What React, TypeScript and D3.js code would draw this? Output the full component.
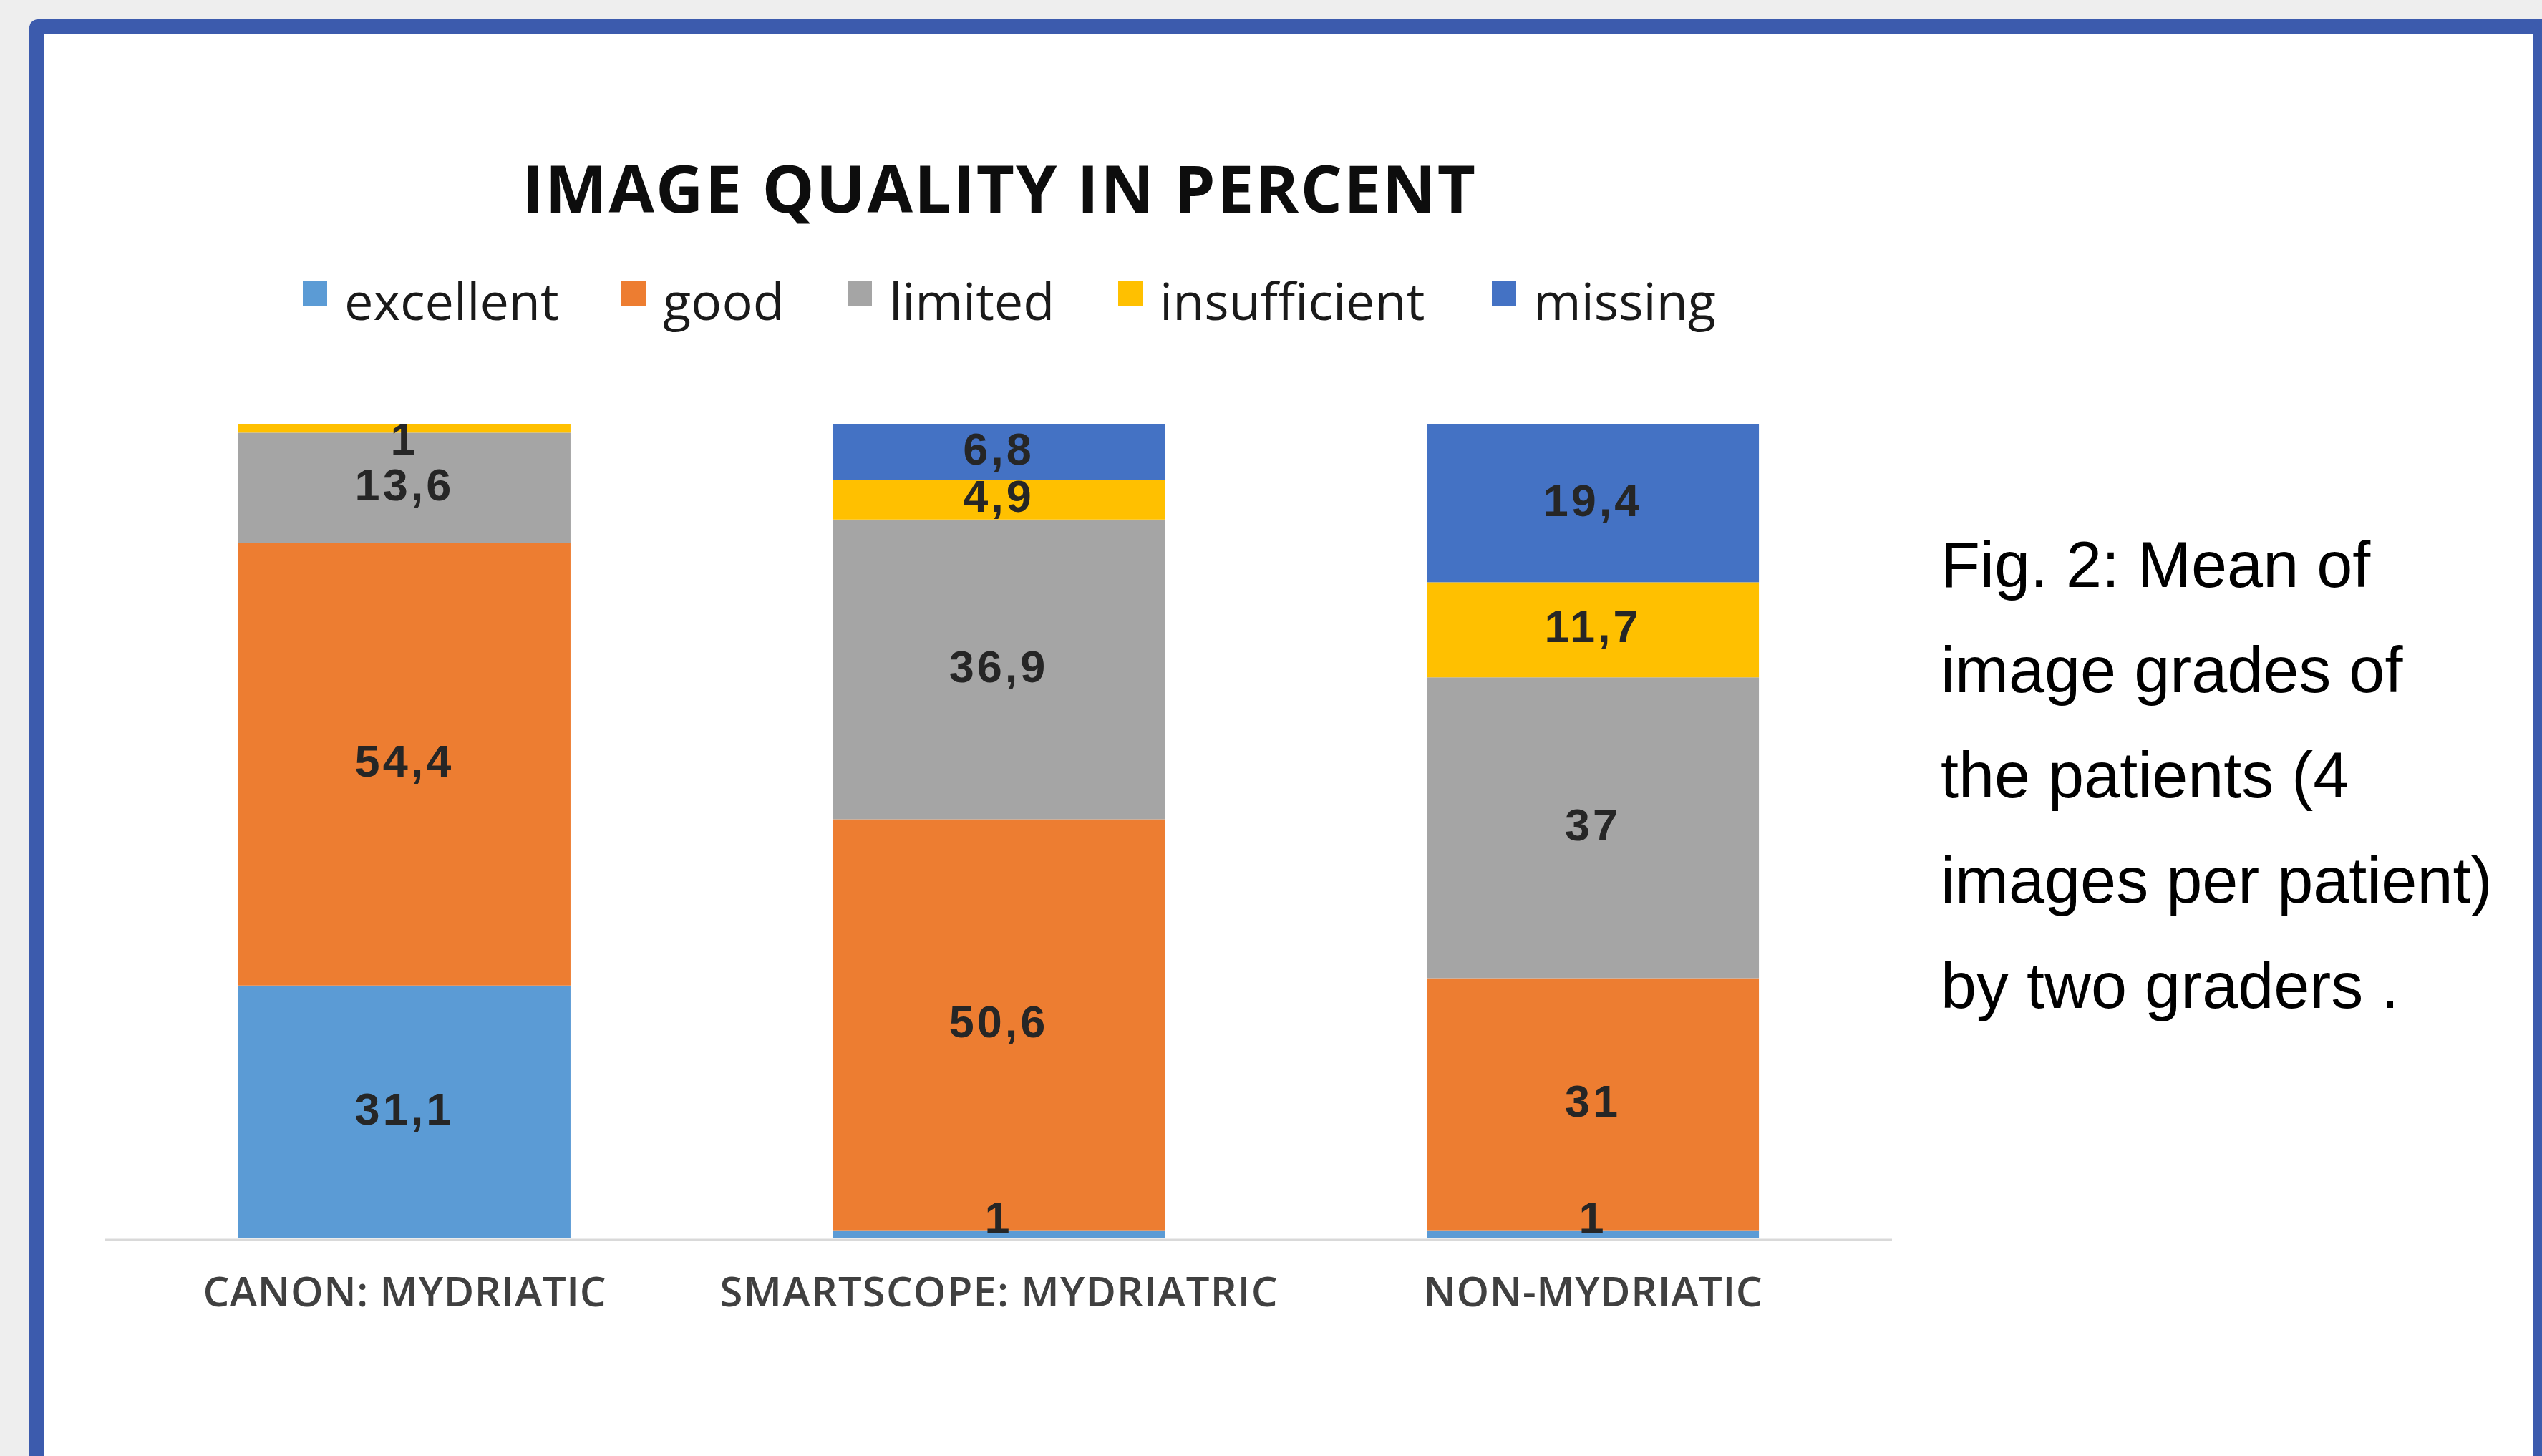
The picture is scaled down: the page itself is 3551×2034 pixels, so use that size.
import React from "react";
import * as d3 from "d3";

// chart data (percent, 100% stacked)
const categories = ["CANON: MYDRIATIC", "SMARTSCOPE: MYDRIATRIC", "NON-MYDRIATIC"];
const seriesNames = ["excellent", "good", "limited", "insufficient", "missing"];
const excellent = [31.1, 1, 1];
const good = [54.4, 50.6, 31];
const limited = [13.6, 36.9, 37];
const insufficient = [1, 4.9, 11.7];
const missing = [0, 6.8, 19.4];
const seriesColors = ["#5B9BD5", "#ED7D31", "#A5A5A5", "#FFC000", "#4472C4"];

const captionLines = [
  "Fig. 2: Mean of",
  "image grades of",
  "the patients (4",
  "images per patient)",
  "by two graders .",
];
const categoryLabelWidths = [563, 779, 473];

const W = 3551;
const H = 2034;

export default function App() {
  const values = [excellent, good, limited, insufficient, missing];
  const rows = categories.map((c, i) => {
    const row: any = { cat: c };
    seriesNames.forEach((s, k) => (row[s] = values[k][i]));
    return row;
  });

  const stack = d3.stack<any>().keys(seriesNames).offset(d3.stackOffsetExpand);
  const layers = stack(rows);

  const x = d3
    .scaleBand()
    .domain(categories)
    .range([147, 2643])
    .paddingInner(0.441)
    .paddingOuter(0.224);
  const y = d3.scaleLinear().domain([0, 1]).range([1730, 593]);
  const color = d3.scaleOrdinal<string>().domain(seriesNames).range(seriesColors);

  const fmt = (v: number) => String(v).replace(".", ",");

  // legend layout
  const legendX = [423, 868, 1184, 1562, 2084];

  return (
    <svg
      width={W}
      height={H}
      style={{ position: "absolute", left: 0, top: 0, display: "block" }}
    >
      <rect width={W} height={H} fill="#eeeeee" />
      {/* frame */}
      <rect x={41} y={27} width={3560} height={2100} rx={12} fill="#3C5BAD" />
      <rect x={61} y={48} width={3478} height={2100} fill="#ffffff" />

      {/* title */}
      <text
        x={1395}
        y={297}
        textAnchor="middle"
        fontFamily="'Open Sans', sans-serif"
        fontWeight={700}
        fontSize={92}
        fill="#0d0d0d"
        textLength={1332}
        lengthAdjust="spacing"
      >
        IMAGE QUALITY  IN PERCENT
      </text>

      {/* legend */}
      {seriesNames.map((s, i) => (
        <g key={s} transform={`translate(${legendX[i]},0)`}>
          <rect x={0} y={393} width={34} height={34} fill={color(s)} />
          <text
            x={58}
            y={447}
            fontFamily="'Open Sans', sans-serif"
            fontSize={72}
            fill="#1a1a1a"
          >
            {s}
          </text>
        </g>
      ))}

      {/* bars */}
      {layers.map((layer) => (
        <g key={layer.key} fill={color(layer.key)}>
          {layer.map((d, i) => (
            <rect
              key={i}
              x={x(categories[i])}
              y={y(d[1])}
              width={x.bandwidth()}
              height={y(d[0]) - y(d[1])}
            />
          ))}
        </g>
      ))}

      {/* axis line */}
      <line x1={147} x2={2643} y1={1732} y2={1732} stroke="#D9D9D9" strokeWidth={3} />

      {/* data labels */}
      {layers.map((layer) =>
        layer.map((d, i) => {
          const v = values[seriesNames.indexOf(layer.key)][i];
          if (!v) return null;
          let cy = (y(d[0]) + y(d[1])) / 2 - 5;
          cy = Math.max(612, Math.min(1700, cy));
          return (
            <text
              key={layer.key + i}
              x={(x(categories[i]) as number) + x.bandwidth() / 2}
              y={cy + 22.5}
              textAnchor="middle"
              fontFamily="'Liberation Sans', Arial, sans-serif"
              fontWeight={700}
              fontSize={63}
              letterSpacing={4}
              fill="#262626"
            >
              {fmt(v)}
            </text>
          );
        })
      )}

      {/* category labels */}
      {categories.map((c, i) => (
        <text
          key={c}
          x={(x(c) as number) + x.bandwidth() / 2}
          y={1825}
          textAnchor="middle"
          fontFamily="'Open Sans', sans-serif"
          fontWeight={600}
          fontSize={58}
          fill="#404040"
          textLength={categoryLabelWidths[i]}
          lengthAdjust="spacing"
        >
          {c}
        </text>
      ))}

      {/* caption */}
      {captionLines.map((t, i) => (
        <text
          key={i}
          x={2711}
          y={820 + i * 147}
          fontFamily="'Liberation Sans', Arial, sans-serif"
          fontSize={90}
          fill="#000"
        >
          {t}
        </text>
      ))}
    </svg>
  );
}
